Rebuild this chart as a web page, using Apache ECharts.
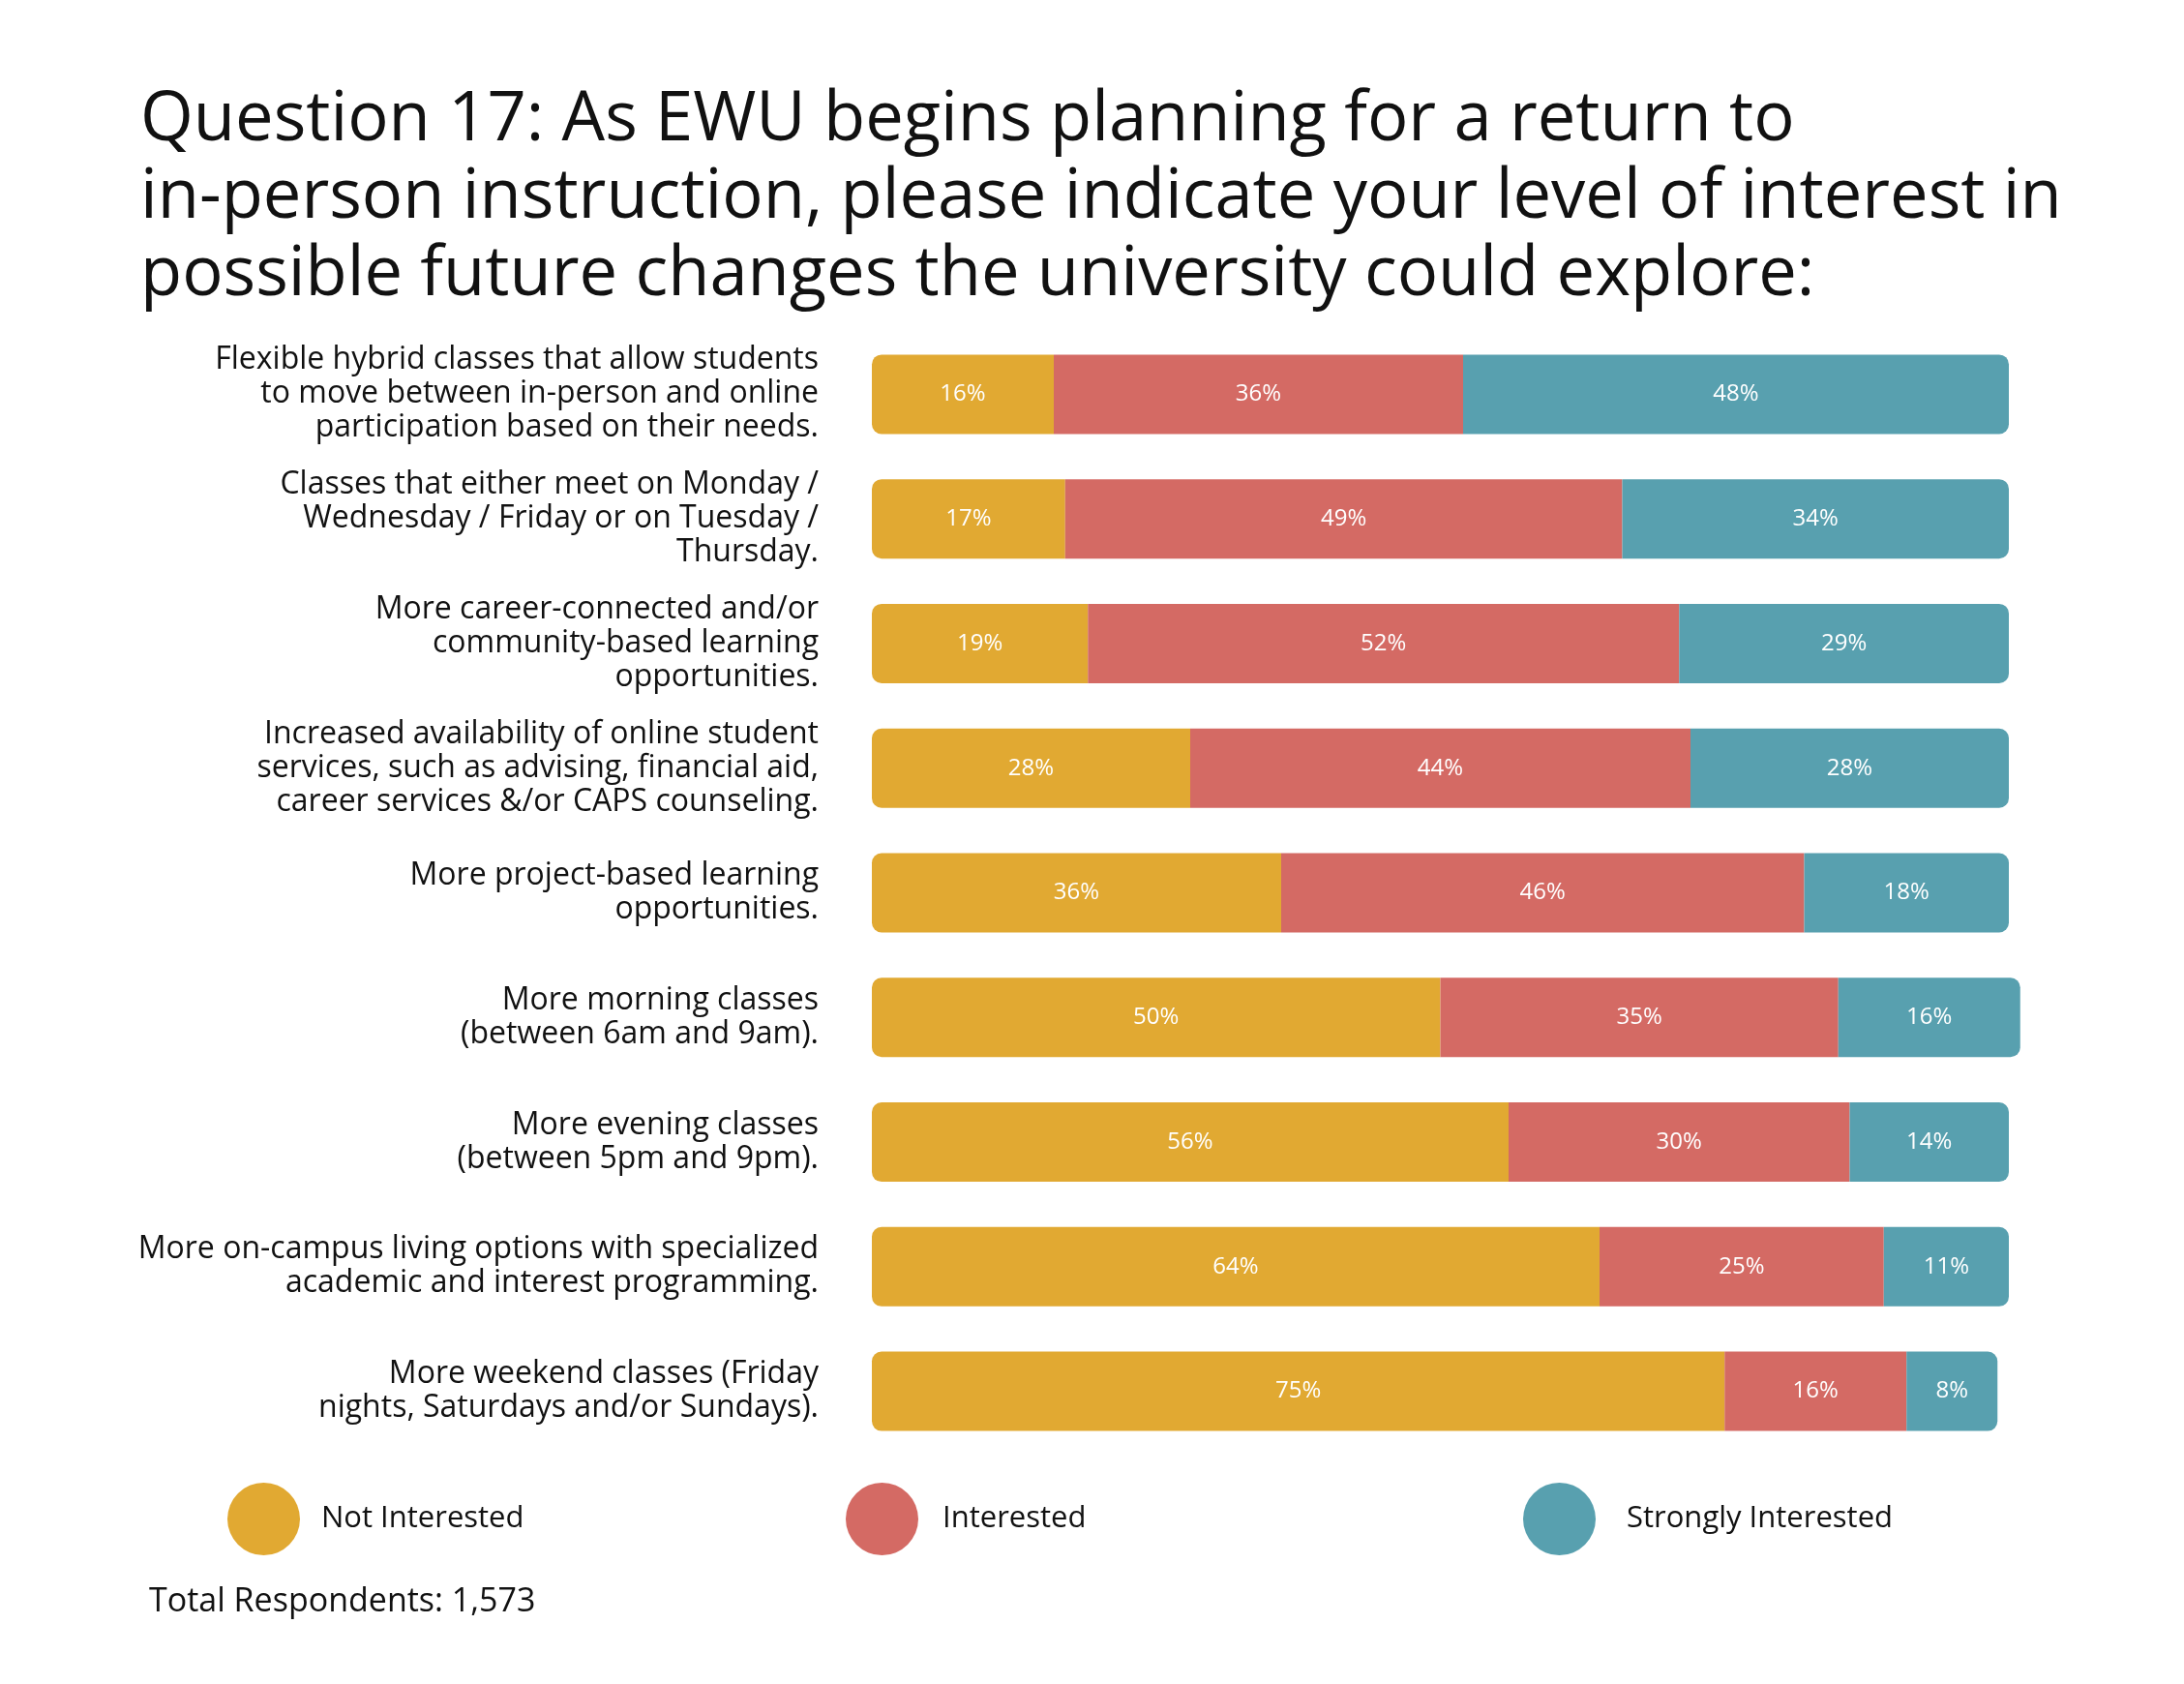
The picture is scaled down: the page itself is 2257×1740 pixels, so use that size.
<!DOCTYPE html>
<html>
<head>
<meta charset="utf-8">
<script src="https://cdn.jsdelivr.net/npm/echarts@6/dist/echarts.min.js"></script>
<style>
html,body{margin:0;padding:0;background:#fff;}
#c{width:2257px;height:1740px;}
</style>
</head>
<body>
<div id="c"></div>
<script>
var categories = [
  'Flexible hybrid classes that allow students\nto move between in-person and online\nparticipation based on their needs.',
  'Classes that either meet on Monday /\nWednesday / Friday or on Tuesday /\nThursday.',
  'More career-connected and/or\ncommunity-based learning\nopportunities.',
  'Increased availability of online student\nservices, such as advising, financial aid,\ncareer services &/or CAPS counseling.',
  'More project-based learning\nopportunities.',
  'More morning classes\n(between 6am and 9am).',
  'More evening classes\n(between 5pm and 9pm).',
  'More on-campus living options with specialized\nacademic and interest programming.',
  'More weekend classes (Friday\nnights, Saturdays and/or Sundays).'
];
var notInterested = [16, 17, 19, 28, 36, 50, 56, 64, 75];
var interested = [36, 49, 52, 44, 46, 35, 30, 25, 16];
var stronglyInterested = [48, 34, 29, 28, 18, 16, 14, 11, 8];
var seriesNames = ['Not Interested', 'Interested', 'Strongly Interested'];
var colors = ['#E1A932', '#D46A64', '#58A0AF'];

var FONT = '"Open Sans"';
var chart = echarts.init(document.getElementById('c'), null, {renderer: 'canvas'});

function mkSeries(name, data, color, radius) {
  return {
    name: name,
    type: 'bar',
    stack: 'total',
    data: data,
    barWidth: 82,
    clip: false,
    itemStyle: {color: color, borderRadius: radius},
    label: {
      show: true,
      position: 'inside',
      color: '#fff',
      fontFamily: FONT,
      fontSize: 24,
      formatter: '{c}%'
    }
  };
}

function mkLegend(name, left, pad) {
  return {
    data: [name],
    left: left,
    top: 1527,
    icon: 'circle',
    itemWidth: 75,
    itemHeight: 75,
    itemGap: 0,
    textStyle: {fontFamily: FONT, fontSize: 31, color: '#111', padding: [0, 0, 0, pad]}
  };
}

chart.setOption({
  backgroundColor: '#fff',
  animation: false,
  title: {
    text: 'Question 17: As EWU begins planning for a return to\nin-person instruction, please indicate your level of interest in\npossible future changes the university could explore:',
    left: 140,
    top: 80,
    textStyle: {fontFamily: FONT, fontSize: 70.5, fontWeight: 'normal', color: '#111', lineHeight: 80}
  },
  legend: [
    mkLegend(seriesNames[0], 230, 17),
    mkLegend(seriesNames[1], 869, 20),
    mkLegend(seriesNames[2], 1569, 27)
  ],
  grid: {left: 901, top: 343, width: 1175, height: 1159, containLabel: false},
  xAxis: {
    type: 'value',
    min: 0,
    max: 100,
    show: false
  },
  yAxis: {
    type: 'category',
    inverse: true,
    data: categories,
    axisLine: {show: false},
    axisTick: {show: false},
    axisLabel: {
      margin: 55,
      align: 'right',
      fontFamily: FONT,
      fontSize: 32,
      lineHeight: 35,
      color: '#111'
    }
  },
  series: [
    mkSeries(seriesNames[0], notInterested, colors[0], [10, 0, 0, 10]),
    mkSeries(seriesNames[1], interested, colors[1], 0),
    mkSeries(seriesNames[2], stronglyInterested, colors[2], [0, 10, 10, 0])
  ],
  graphic: [{
    type: 'text',
    left: 154,
    top: 1638,
    style: {text: 'Total Respondents: 1,573', fontFamily: FONT, fontSize: 34, fill: '#111'}
  }]
});
</script>
</body>
</html>
